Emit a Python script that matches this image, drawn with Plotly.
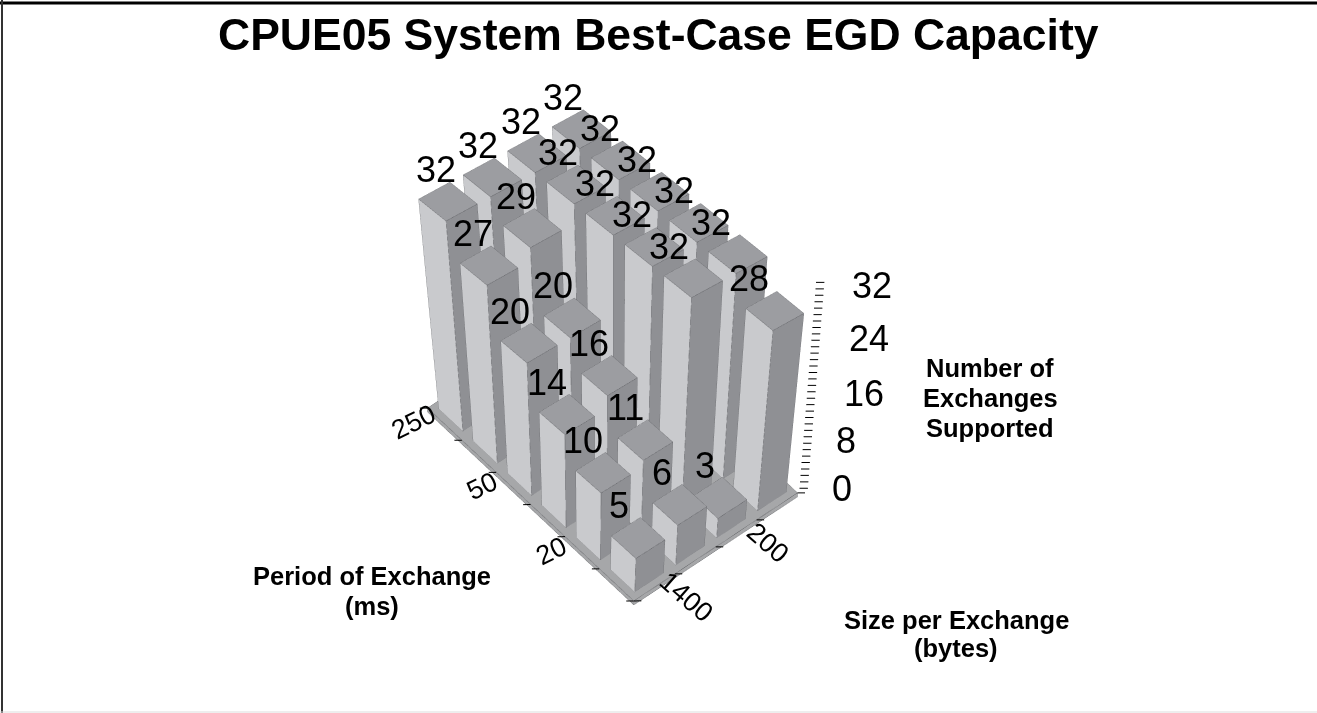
import plotly.graph_objects as go

# categories along the floor
size_labels = ["1400", "", "200", ""]
period_labels = ["250", "", "50", "", "20", ""]
z_ticks = [0, 8, 16, 24, 32]

# exchanges supported, one list per size column, from back row (250) to front row
col_1 = [32, 27, 20, 14, 10, 5]
col_2 = [32, 29, 20, 16, 11, 6]
col_3 = [32, 32, 32, 32, 32, 3]
col_4 = [32, 32, 32, 32, 32, 28]
columns = [col_1, col_2, col_3, col_4]

W, H = 1317, 713
NX, NY = len(columns), len(period_labels)
BAR = 0.7
# the source chart has a slight perspective, so the top plane is sheared against the floor
FAN = [[0.0075, -0.0817], [-0.0957, 0.0405]]
RX, RY = 0.766, -0.643  # screen right, in floor units

C_LEFT = "#c9cacd"
C_RIGHT = "#8f9094"
C_TOP = "#9c9da1"
C_FLOOR = "#a6a7a9"
C_EDGE = "#606165"


def fan(x, y, z):
    dx, dy = x - NX / 2, y - NY / 2
    t = z / 32
    return x + t * (FAN[0][0] * dx + FAN[0][1] * dy), y + t * (FAN[1][0] * dx + FAN[1][1] * dy), z


xs, ys, zs, ii, jj, kk, face_colors = [], [], [], [], [], [], []
ex, ey, ez = [], [], []


def add_box(x0, x1, y0, y1, z0, z1, colors):
    base = len(xs)
    corners = [
        (x0, y0, z0), (x1, y0, z0), (x1, y1, z0), (x0, y1, z0),
        (x0, y0, z1), (x1, y0, z1), (x1, y1, z1), (x0, y1, z1),
    ]
    for c in corners:
        px, py, pz = fan(*c) if z1 > 0 else c
        xs.append(px)
        ys.append(py)
        zs.append(pz)
    faces = [
        (0, 3, 7, 4, colors[0]),  # -x side
        (0, 1, 5, 4, colors[1]),  # -y side
        (1, 2, 6, 5, colors[1]),
        (3, 2, 6, 7, colors[0]),
        (4, 5, 6, 7, colors[2]),
    ]
    for a, b, c, d, col in faces:
        ii.extend([base + a, base + a])
        jj.extend([base + b, base + c])
        kk.extend([base + c, base + d])
        face_colors.extend([col, col])
    for path in [(0, 3, 7, 4, 0), (0, 1, 5, 4), (4, 7, 6, 5)]:
        for p in path:
            ex.append(xs[base + p])
            ey.append(ys[base + p])
            ez.append(zs[base + p])
        ex.append(None)
        ey.append(None)
        ez.append(None)


add_box(0, NX, 0, NY, -0.6, 0, [C_FLOOR, C_FLOOR, C_FLOOR])

gap = (1 - BAR) / 2
labels = []
for c, col in enumerate(columns):
    for r, v in enumerate(col):
        y0 = NY - 1 - r
        add_box(c + gap, c + 1 - gap, y0 + gap, y0 + 1 - gap, 0, v, [C_LEFT, C_RIGHT, C_TOP])
        cx, cy, cz = fan(c + 0.5, y0 + 0.5, v)
        side = (c + 0.5 - NX / 2) * RX + (y0 + 0.5 - NY / 2) * RY
        labels.append(dict(x=cx, y=cy, z=cz, text=str(v), showarrow=False,
                           xshift=-20 + 3 * side - 6 * side * v / 32, yshift=32,
                           font=dict(size=36, color="black", family="Liberation Sans")))

for i, lab in enumerate(size_labels):
    if lab:
        labels.append(dict(x=i + 0.5, y=0, z=0, text=lab, showarrow=False, textangle=41, xshift=32, yshift=-10,
                           font=dict(size=27, color="black", family="Liberation Sans")))
for i, lab in enumerate(period_labels):
    if lab:
        labels.append(dict(x=0, y=NY - 0.5 - i, z=0, text=lab, showarrow=False, textangle=-26, xshift=-31, yshift=2,
                           font=dict(size=27, color="black", family="Liberation Sans")))

# floor ticks, flat on screen
tx, ty, tz = [], [], []
for i in range(NY + 1):
    tx += [0, -0.11, None]
    ty += [i, i + 0.09, None]
    tz += [0, 0, None]
for i in range(NX + 1):
    tx += [i, i + 0.11, None]
    ty += [0, -0.09, None]
    tz += [0, 0, None]

# value axis, every unit gets a tick
for v in range(33):
    lean = 0.22 * v / 32
    bx, by = NX + 0.1 + lean, 0.06 - lean
    tx += [bx, bx + 0.12, None]
    ty += [by, by - 0.10, None]
    tz += [v, v, None]

z_label_xshift = [45, 45, 58, 59, 58]
z_label_yshift = [4, 1, -4, 0, 1]
for v, sx, sy in zip(z_ticks, z_label_xshift, z_label_yshift):
    lean = 0.22 * v / 32
    labels.append(dict(x=NX + lean, y=-lean, z=v, text=str(v), showarrow=False, xshift=sx, yshift=sy,
                       font=dict(size=36, color="black", family="Liberation Sans")))

fig = go.Figure()
fig.add_trace(go.Mesh3d(
    x=xs, y=ys, z=zs, i=ii, j=jj, k=kk, facecolor=face_colors, flatshading=True,
    lighting=dict(ambient=1, diffuse=0, specular=0, fresnel=0, roughness=1),
    hoverinfo="skip", showscale=False,
))
fig.add_trace(go.Scatter3d(x=ex, y=ey, z=ez, mode="lines", line=dict(color=C_EDGE, width=1),
                           hoverinfo="skip", showlegend=False))
fig.add_trace(go.Scatter3d(x=tx, y=ty, z=tz, mode="lines", line=dict(color="black", width=2),
                           hoverinfo="skip", showlegend=False))

hidden = dict(visible=False, showspikes=False, showbackground=False, showgrid=False, zeroline=False)
fig.update_layout(
    width=W, height=H, margin=dict(l=0, r=0, t=0, b=0), paper_bgcolor="white", showlegend=False,
    scene=dict(
        domain=dict(x=[0, 0.93], y=[0.027, 1]),
        xaxis=dict(range=[-1, NX + 1], **hidden),
        yaxis=dict(range=[-1, NY + 1], **hidden),
        zaxis=dict(range=[-2, 34], **hidden),
        aspectmode="manual",
        aspectratio=dict(x=0.924, y=1.232, z=1.085),
        camera=dict(eye=dict(x=-0.8, y=-0.952, z=1.58), up=dict(x=0, y=0, z=1),
                    projection=dict(type="orthographic")),
        annotations=labels,
    ),
)

# title and axis captions are flat page text
page_text = [
    ("CPUE05 System Best-Case EGD Capacity", 658, 34, 44.5),
    ("Number of", 990, 368, 25.5), ("Exchanges", 990, 398, 25.5), ("Supported", 990, 428, 25.5),
    ("Period of Exchange", 372, 576, 25.5), ("(ms)", 372, 606, 25.5),
    ("Size per Exchange", 956, 620, 25.5), ("(bytes)", 956, 648, 25.5),
]
for text, px, py, size in page_text:
    fig.add_annotation(x=px / W, y=1 - py / H, xref="paper", yref="paper", text="<b>%s</b>" % text,
                       showarrow=False, xanchor="center", yanchor="middle",
                       font=dict(size=size, color="black", family="Liberation Sans"))

# slide frame
fig.add_shape(type="line", xref="paper", yref="paper", x0=0, x1=1, y0=1 - 3 / H, y1=1 - 3 / H,
              line=dict(color="black", width=3))
fig.add_shape(type="line", xref="paper", yref="paper", x0=2 / W, x1=2 / W, y0=0, y1=1,
              line=dict(color="#333333", width=2))
fig.add_shape(type="line", xref="paper", yref="paper", x0=0, x1=1, y0=1 / H, y1=1 / H,
              line=dict(color="#dddddd", width=1))

fig.write_html("out.html", config=dict(displayModeBar=False),
               post_script="document.body.style.margin='0';document.body.style.overflow='hidden';")
